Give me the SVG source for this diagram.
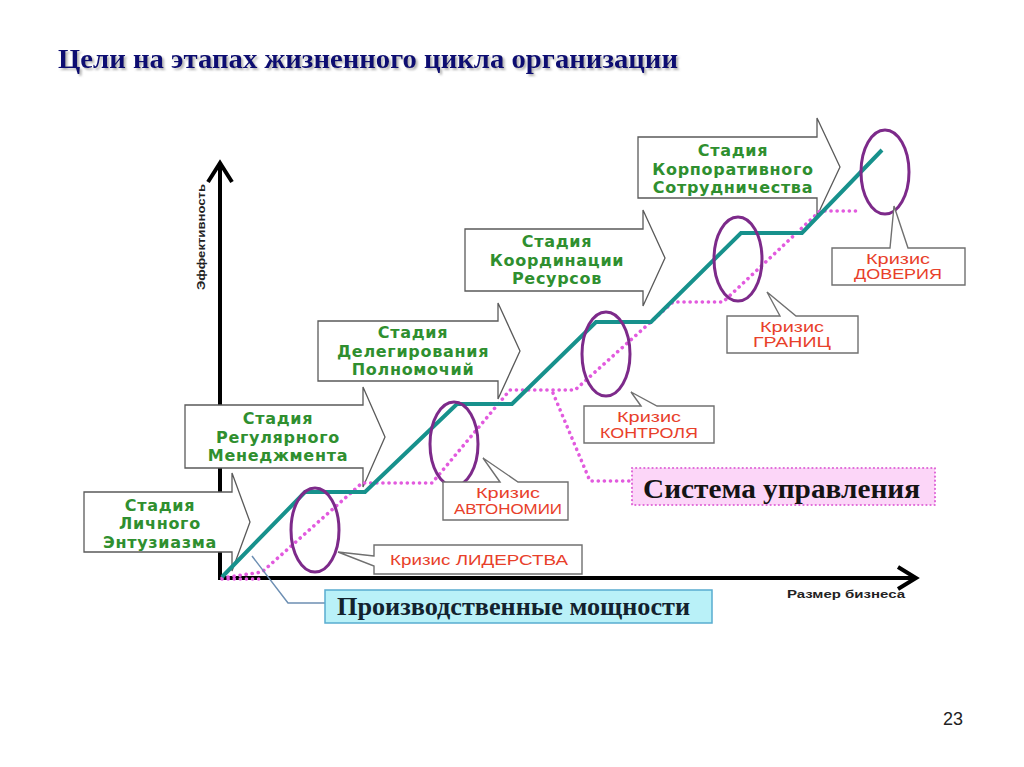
<svg xmlns="http://www.w3.org/2000/svg" width="1024" height="767" viewBox="0 0 1024 767">
<defs>
<filter id="sh" x="-5%" y="-20%" width="110%" height="150%">
<feDropShadow dx="2" dy="2" stdDeviation="1.2" flood-color="#808080" flood-opacity="0.6"/>
</filter>
</defs>
<style>
.stage{fill:#ffffff;stroke:#5a5a5a;stroke-width:1.3}
.st{font-family:"DejaVu Sans",Verdana,sans-serif;font-weight:bold;font-size:16px;letter-spacing:0.7px;fill:#2f8f2f;text-anchor:middle}
.cbox{fill:#ffffff;stroke:#707070;stroke-width:1.4}
.ct{font-family:"Liberation Sans",Arial,sans-serif;font-size:14.5px;fill:#e8402a;text-anchor:middle}
.ell{fill:none;stroke:#7d2a8a;stroke-width:3}
.axis{fill:none;stroke:#000;stroke-width:4;stroke-linecap:butt;stroke-linejoin:miter}
.teal{fill:none;stroke:#17918c;stroke-width:4;stroke-linejoin:miter}
.pink{fill:none;stroke:#e25ade;stroke-width:3.6;stroke-dasharray:0.1 6;stroke-linecap:round}
</style>
<rect width="1024" height="767" fill="#ffffff"/>

<g id="title">
<text x="58" y="68" font-family="Liberation Serif,serif" font-weight="bold" font-size="27" fill="#0c0c72" textLength="620" lengthAdjust="spacingAndGlyphs" filter="url(#sh)">Цели на этапах жизненного цикла организации</text>
</g>

<g id="axes">
<path class="axis" d="M220,580 V164 M208,182 L220,163 L232,182"/>
<path class="axis" d="M218,578 H915 M898,567 L916,578 L898,589"/>
<text transform="translate(205,237) rotate(-90)" font-family="Liberation Sans,Arial,sans-serif" font-weight="bold" font-size="11" fill="#222" text-anchor="middle" textLength="106" lengthAdjust="spacingAndGlyphs">Эффективность</text>
<text x="846" y="598" font-family="Liberation Sans,Arial,sans-serif" font-weight="bold" font-size="11" fill="#222" text-anchor="middle" textLength="118" lengthAdjust="spacingAndGlyphs">Размер бизнеса</text>
</g>

<g id="stage1">
<polygon class="stage" points="84,492 232,492 232,473 250,522 232,571 232,552 84,552"/>
<text class="st" x="160" y="510.5">Стадия</text>
<text class="st" x="160" y="529">Личного</text>
<text class="st" x="160" y="547.5">Энтузиазма</text>
</g>
<g id="stage2">
<polygon class="stage" points="185,405 363,405 363,387 385,437 363,487 363,468 185,468"/>
<text class="st" x="278" y="424">Стадия</text>
<text class="st" x="278" y="442.5">Регулярного</text>
<text class="st" x="278" y="461">Менеджмента</text>
</g>
<g id="stage3">
<polygon class="stage" points="318,321 498,321 498,303 520,351 498,399 498,381 318,381"/>
<text class="st" x="413" y="338">Стадия</text>
<text class="st" x="413" y="356.5">Делегирования</text>
<text class="st" x="413" y="375">Полномочий</text>
</g>
<g id="stage4">
<polygon class="stage" points="465,229 643,229 643,210 665,258 643,306 643,291 465,291"/>
<text class="st" x="557" y="247">Стадия</text>
<text class="st" x="557" y="265.5">Координации</text>
<text class="st" x="557" y="284">Ресурсов</text>
</g>
<g id="stage5">
<polygon class="stage" points="638,137 817,137 817,118 840,167 817,216 817,198 638,198"/>
<text class="st" x="733" y="156">Стадия</text>
<text class="st" x="733" y="174.5">Корпоративного</text>
<text class="st" x="733" y="193">Сотрудничества</text>
</g>

<g id="connectors">
<path class="pink" d="M222,579 H262 M222,578 L262,572 L362,483 L432,483 L510,390 L575,390 L673,302 L723,302 L820,211 L858,211"/>
<path class="pink" d="M553,393 L590,481 L630,481"/>
<path fill="none" stroke="#6d8fb3" stroke-width="1.5" d="M252,556 L288,603 L325,603"/>
<path class="teal" d="M222,577 L305,492 L365,492 L457,404 L512,404 L596,322 L651,322 L741,233 L802,233 L882,150"/>
</g>

<g id="ellipses">
<ellipse class="ell" cx="315" cy="530" rx="24" ry="42"/>
<ellipse class="ell" cx="454" cy="444" rx="24" ry="42"/>
<ellipse class="ell" cx="606" cy="354" rx="24" ry="42"/>
<ellipse class="ell" cx="738" cy="259" rx="24" ry="42"/>
<ellipse class="ell" cx="885" cy="172" rx="24" ry="42"/>
</g>

<g id="crisis1">
<path class="cbox" d="M374,556 L338,552 L374,566 V574 H582 V545 H374 Z"/>
<text class="ct" x="479" y="565" textLength="178" lengthAdjust="spacingAndGlyphs">Кризис ЛИДЕРСТВА</text>
</g>
<g id="crisis2">
<path class="cbox" d="M500,482 L483,458 L518,482 H568 V520 H443 V482 Z"/>
<text class="ct" x="508" y="498" textLength="64" lengthAdjust="spacingAndGlyphs">Кризис</text>
<text class="ct" x="508" y="514" textLength="108" lengthAdjust="spacingAndGlyphs">АВТОНОМИИ</text>
</g>
<g id="crisis3">
<path class="cbox" d="M641,406 L631,392 L657,406 H714 V443 H584 V406 Z"/>
<text class="ct" x="649" y="422" textLength="64" lengthAdjust="spacingAndGlyphs">Кризис</text>
<text class="ct" x="649" y="438" textLength="98" lengthAdjust="spacingAndGlyphs">КОНТРОЛЯ</text>
</g>
<g id="crisis4">
<path class="cbox" d="M780,316 L767,292 L796,316 H858 V353 H727 V316 Z"/>
<text class="ct" x="792" y="332" textLength="64" lengthAdjust="spacingAndGlyphs">Кризис</text>
<text class="ct" x="792" y="347" textLength="78" lengthAdjust="spacingAndGlyphs">ГРАНИЦ</text>
</g>
<g id="crisis5">
<path class="cbox" d="M890,248 L894,206 L908,248 H965 V285 H832 V248 Z"/>
<text class="ct" x="898" y="264" textLength="64" lengthAdjust="spacingAndGlyphs">Кризис</text>
<text class="ct" x="898" y="279" textLength="88" lengthAdjust="spacingAndGlyphs">ДОВЕРИЯ</text>
</g>

<g id="system">
<rect x="632" y="468" width="303" height="37" fill="#fcd6f8" stroke="#e06ad8" stroke-width="2.2" stroke-dasharray="0.1 4" stroke-linecap="round"/>
<text x="643" y="498" font-family="Liberation Serif,serif" font-weight="bold" font-size="27" fill="#141414" textLength="277" lengthAdjust="spacingAndGlyphs">Система управления</text>
</g>

<g id="capacity">
<rect x="325" y="590" width="387" height="33" fill="#b9f1f8" stroke="#58acd0" stroke-width="1.5"/>
<text x="337" y="615" font-family="Liberation Serif,serif" font-weight="bold" font-size="25" fill="#13222e" textLength="353" lengthAdjust="spacingAndGlyphs">Производственные мощности</text>
</g>

<g id="page">
<text x="953" y="725" font-family="Liberation Sans,Arial,sans-serif" font-size="18" fill="#222" text-anchor="middle">23</text>
</g>
</svg>
